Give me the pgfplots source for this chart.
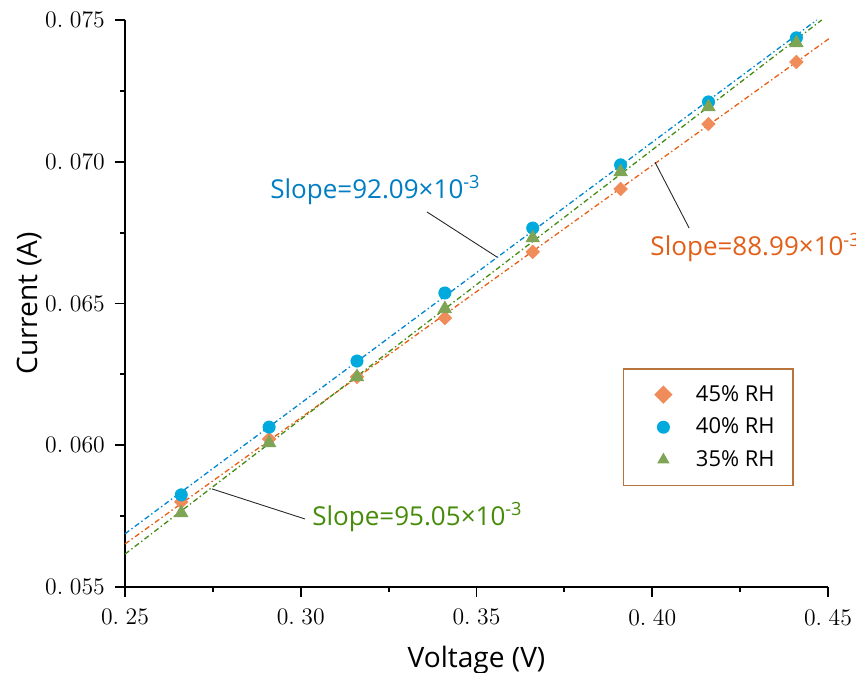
\documentclass[border=0pt]{standalone}
\usepackage{fontspec}
\usepackage{pgfplots}
\pgfplotsset{compat=1.18}
\newfontfamily\labfont{Open Sans}
\definecolor{bluM}{RGB}{0,170,220}
\definecolor{bluL}{RGB}{0,135,210}
\definecolor{bluT}{RGB}{0,125,195}
\definecolor{orgM}{RGB}{240,140,90}
\definecolor{orgL}{RGB}{235,95,20}
\definecolor{orgT}{RGB}{225,95,25}
\definecolor{grnM}{RGB}{125,165,85}
\definecolor{grnL}{RGB}{70,140,20}
\definecolor{grnT}{RGB}{70,140,10}
\definecolor{legB}{RGB}{185,115,60}

\begin{document}
\begin{tikzpicture}
\begin{axis}[at={(0,0)}, anchor=south west, scale only axis,
  width=14.06cm, height=11.34cm,
  xmin=0.25, xmax=0.45, ymin=0.055, ymax=0.075, clip=false,
  scaled x ticks=false, scaled y ticks=false,
  axis x line*=bottom, axis y line*=left,
  axis line style={line width=1.1pt},
  tick align=outside, major tick length=0.2cm, minor tick length=0.1cm,
  every tick/.style={black, line width=1.1pt},
  xtick={0.25,0.30,0.35,0.40,0.45},
  xticklabels={0.\;25,0.\;30,0.\;35,0.\;40,0.\;45},
  ytick={0.055,0.060,0.065,0.070,0.075},
  yticklabels={0.\;055,0.\;060,0.\;065,0.\;070,0.\;075},
  minor x tick num=1, minor y tick num=1,
  tick label style={font=\fontsize{13.5}{16}\selectfont},
  xticklabel style={yshift=-0.12cm},
  yticklabel style={xshift=-0.08cm},
  xlabel={Voltage (V)}, ylabel={Current (A)},
  label style={font=\labfont\fontsize{16}{19}\selectfont},
  xlabel style={at={([yshift=-1.46cm]axis description cs:0.5,0)}, anchor=center},
  ylabel style={at={([xshift=-1.9cm]axis description cs:0,0.5)}, anchor=center},
  legend style={at={(0.708,0.386)}, anchor=north west, draw=legB, line width=0.8pt,
    font=\labfont\fontsize{12.5}{15}\selectfont, inner xsep=0.3cm, inner ysep=0.26cm,
    row sep=4pt, /tikz/every even column/.append style={column sep=0.1cm}},
  legend cell align=left,
  legend image code/.code={\path[draw=none, fill=none] (-0.5cm,0cm) -- (0.58cm,0cm);
    \draw[#1,/tikz/mark size=3.3pt] plot coordinates {(0cm,0cm)};},
]
\addplot[only marks, mark=square*, mark size=2.7pt, mark options={rotate=45, draw=orgM, fill=orgM}]
  coordinates {(0.266,0.05800) (0.291,0.06022) (0.316,0.06241) (0.341,0.06449)
               (0.366,0.06682) (0.391,0.06904) (0.416,0.07133) (0.441,0.07352)};
\addlegendentry{45\% RH}
\addplot[only marks, mark=*, mark size=3.5pt, mark options={draw=bluM, fill=bluM}]
  coordinates {(0.266,0.05825) (0.291,0.06064) (0.316,0.06297) (0.341,0.06537)
               (0.366,0.06766) (0.391,0.06989) (0.416,0.07211) (0.441,0.07437)};
\addlegendentry{40\% RH}
\addplot[only marks, mark=triangle*, mark size=4.4pt, mark options={draw=grnM, fill=grnM}]
  coordinates {(0.266,0.05761) (0.291,0.06008) (0.316,0.06241) (0.341,0.06481)
               (0.366,0.06731) (0.391,0.06964) (0.416,0.07193) (0.441,0.07419)};
\addlegendentry{35\% RH}
% linear fits (end points)
\addplot[forget plot, orgL, line width=0.75pt, dash pattern=on 3pt off 1.6pt on 0.8pt off 1.6pt]
  coordinates {(0.25,0.056518) (0.4505,0.074361)};
\addplot[forget plot, bluL, line width=0.75pt, dash pattern=on 3pt off 1.6pt on 0.8pt off 1.6pt]
  coordinates {(0.25,0.056876) (0.4468,0.075)};
\addplot[forget plot, grnL, line width=0.75pt, dash pattern=on 3pt off 1.6pt on 0.8pt off 1.6pt]
  coordinates {(0.25,0.05616) (0.4482,0.075)};
% annotations
\draw[black!85, line width=0.5pt] (axis cs:0.3359,0.06823) -- (axis cs:0.3558,0.06664);
\draw[black!85, line width=0.5pt] (axis cs:0.4008,0.06998) -- (axis cs:0.4105,0.06766);
\draw[black!85, line width=0.5pt] (axis cs:0.27475,0.05846) -- (axis cs:0.3012,0.0574);
\node[anchor=west, inner sep=0pt, text=bluT, font=\labfont\fontsize{14.8}{17}\selectfont]
  at (axis cs:0.29125,0.0690) {Slope=92.09×10\textsuperscript{-3}};
\node[anchor=west, inner sep=0pt, text=orgT, font=\labfont\fontsize{14.8}{17}\selectfont]
  at (axis cs:0.3994,0.06696) {Slope=88.99×10\textsuperscript{-3}};
\node[anchor=west, inner sep=0pt, text=grnT, font=\labfont\fontsize{14.8}{17}\selectfont]
  at (axis cs:0.3032,0.05747) {Slope=95.05×10\textsuperscript{-3}};
\end{axis}
\pgfresetboundingbox
\useasboundingbox (-2.5cm,-1.72cm) rectangle (14.62cm,11.74cm);
\end{tikzpicture}
\end{document}
